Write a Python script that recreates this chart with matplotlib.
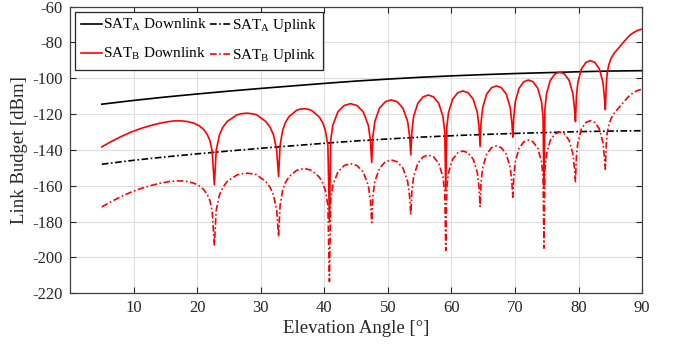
"""
Link budget versus elevation angle for the two satellites.
"""
import matplotlib
matplotlib.use("Agg")
import matplotlib.pyplot as plt

plt.rcParams['font.family'] = ['Liberation Serif', 'DejaVu Serif']
plt.rcParams['mathtext.fontset'] = 'custom'
plt.rcParams['mathtext.rm'] = 'Liberation Serif'
plt.rcParams['mathtext.it'] = 'Liberation Serif:italic'
plt.rcParams['axes.unicode_minus'] = False

# SAT_A: smooth curves
elev_a = [5, 10, 15, 20, 25, 30, 35, 40, 45, 50, 55, 60, 65, 70, 75, 80, 85, 90]
sat_a_down = [-114.5, -112.4, -110.5, -108.8, -107.2, -105.7, -104.3, -102.9, -101.6,
              -100.5, -99.5, -98.7, -98.0, -97.4, -96.9, -96.4, -96.0, -95.8]
sat_a_up = [-148.0, -145.8, -143.9, -142.2, -140.6, -139.1, -137.7, -136.3, -135.0,
            -133.9, -132.9, -132.1, -131.4, -130.8, -130.3, -129.8, -129.5, -129.3]

# SAT_B: multipath lobes, one row per lobe (ending on its null)
elev_b = [
    5, 6.5, 8, 9.5, 11, 12.5, 14, 15.5, 16.5, 17.5, 18.5, 19.5, 20.3, 21.0, 21.6, 22.0, 22.35, 22.7,
    23.0, 23.51, 24.01, 24.72, 26.24, 26.94, 27.9, 28.56, 29.3, 30.78, 31.49, 32.0, 32.5, 32.8,
    33.04, 33.44, 33.84, 34.4, 35.6, 36.16, 36.8, 37.44, 38.0, 39.2, 39.76, 40.16, 40.56, 40.8,
    41.0, 41.33, 42.13, 43.13, 44.13, 45.12, 46.12, 46.92, 47.25, 47.45,
    47.63, 47.94, 48.68, 49.6, 50.53, 51.45, 52.37, 53.11, 53.42, 53.6,
    53.77, 54.04, 54.7, 55.53, 56.35, 57.18, 58.0, 58.66, 58.94, 59.1,
    59.26, 59.53, 60.18, 60.99, 61.8, 62.61, 63.42, 64.07, 64.34, 64.5,
    64.65, 64.91, 65.53, 66.3, 67.08, 67.85, 68.62, 69.24, 69.5, 69.65,
    69.8, 70.04, 70.63, 71.37, 72.1, 72.84, 73.57, 74.16, 74.4, 74.55,
    74.7, 74.95, 75.54, 76.28, 77.03, 77.77, 78.51, 79.1, 79.35, 79.5,
    79.64, 79.88, 80.44, 81.15, 81.85, 82.56, 83.26, 83.82, 84.06, 84.2,
    84.34, 84.5, 84.75, 85.1, 85.6, 86.2, 86.8, 87.4, 88.0, 88.6, 89.3, 90.0,
]
sat_b_down = [
    -138.3, -135.3, -132.6, -130.2, -128.2, -126.6, -125.2, -124.2, -123.8,
    -123.8, -124.2, -125.1, -126.5, -128.5, -131.5, -134.8, -140.5, -159.5,
    -140.0, -131.6, -127.5, -124.1, -120.5, -119.8, -119.5, -119.8, -120.3, -124.1, -127.5, -131.6, -140.0, -154.8,
    -137.5, -129.1, -125.0, -121.6, -118.0, -117.3, -117.0, -117.3, -118.0, -121.6, -125.0, -129.1, -137.5, -180.0,
    -134.7, -126.3, -118.8, -115.2, -114.2, -115.2, -118.8, -126.3, -134.7, -147.0,
    -132.6, -124.2, -116.7, -113.1, -112.1, -113.1, -116.7, -124.2, -132.6, -142.8,
    -129.9, -121.5, -114.0, -110.4, -109.4, -110.4, -114.0, -121.5, -129.9, -162.6,
    -127.6, -119.2, -111.7, -108.1, -107.1, -108.1, -111.7, -119.2, -127.6, -138.1,
    -124.8, -116.4, -108.9, -105.3, -104.3, -105.3, -108.9, -116.4, -124.8, -132.9,
    -121.5, -113.1, -105.6, -102.0, -101.0, -102.0, -105.6, -113.1, -121.5, -161.3,
    -117.1, -108.7, -101.2, -97.6, -96.6, -97.6, -101.2, -108.7, -117.1, -124.2,
    -110.7, -102.3, -94.8, -91.2, -90.2, -91.2, -94.8, -102.3, -110.7, -117.5,
    -104.0, -97.0, -92.5, -89.0, -86.0, -83.5, -81.0, -78.5, -76.2, -74.6, -73.3, -72.6,
]
sat_b_up = [
    -171.8, -168.8, -166.1, -163.7, -161.7, -160.1, -158.7, -157.7, -157.3,
    -157.3, -157.7, -158.6, -160.0, -162.0, -165.0, -168.3, -174.0, -193.0,
    -173.5, -165.1, -161.0, -157.6, -154.0, -153.3, -153.0, -153.3, -153.8, -157.6, -161.0, -165.1, -173.5, -188.3,
    -171.0, -162.6, -158.5, -155.1, -151.5, -150.8, -150.5, -150.8, -151.5, -155.1, -158.5, -162.6, -171.0, -213.4,
    -168.2, -159.8, -152.3, -148.7, -147.7, -148.7, -152.3, -159.8, -168.2, -180.5,
    -166.1, -157.7, -150.2, -146.6, -145.6, -146.6, -150.2, -157.7, -166.1, -176.2,
    -163.4, -155.0, -147.5, -143.9, -142.9, -143.9, -147.5, -155.0, -163.4, -196.1,
    -161.1, -152.7, -145.2, -141.6, -140.6, -141.6, -145.2, -152.7, -161.1, -171.6,
    -158.3, -149.9, -142.4, -138.8, -137.8, -138.8, -142.4, -149.9, -158.3, -166.4,
    -155.0, -146.6, -139.1, -135.5, -134.5, -135.5, -139.1, -146.6, -155.0, -194.8,
    -150.6, -142.2, -134.7, -131.1, -130.1, -131.1, -134.7, -142.2, -150.6, -157.7,
    -144.2, -135.8, -128.3, -124.7, -123.7, -124.7, -128.3, -135.8, -144.2, -150.8,
    -137.5, -130.5, -126.0, -122.5, -119.5, -117.0, -114.5, -112.0, -109.7, -108.1, -106.8, -106.1,
]

x_ticks = [10, 20, 30, 40, 50, 60, 70, 80, 90]
y_ticks = [-220, -200, -180, -160, -140, -120, -100, -80, -60]

dashdot = (0, (4, 1.5, 1, 1.5))

fig = plt.figure(figsize=(6.76, 3.46), dpi=100)
ax = fig.add_axes([0.1036, 0.1523, 0.8464, 0.8289])

l_a_down, = ax.plot(elev_a, sat_a_down, color='black', lw=1.2, label='SAT$_\\mathrm{A}$ Downlink')
l_a_up, = ax.plot(elev_a, sat_a_up, color='black', lw=1.2, linestyle=dashdot,
                  label='SAT$_\\mathrm{A}$ Uplink')
l_b_down, = ax.plot(elev_b, sat_b_down, color='red', lw=1.2, label='SAT$_\\mathrm{B}$ Downlink')
l_b_up, = ax.plot(elev_b, sat_b_up, color='red', lw=1.2, linestyle=dashdot,
                  label='SAT$_\\mathrm{B}$ Uplink')

ax.set_xlim(0, 90)
ax.set_ylim(-220, -60)
ax.set_xticks(x_ticks)
ax.set_yticks(y_ticks)
ax.tick_params(direction='in', length=4, width=0.8, top=True, right=True,
               labelsize=12, colors='#262626', labelcolor='#262626', pad=5)
ax.grid(True, color='#dedede', linewidth=0.8)
ax.set_axisbelow(True)
for s in ax.spines.values():
    s.set_color('#404040')
    s.set_linewidth(0.9)

ax.set_xlabel('Elevation Angle [°]', fontsize=13.5, color='#262626', labelpad=3)
ax.set_ylabel('Link Budget [dBm]', fontsize=13.5, color='#262626', labelpad=3)

leg = ax.legend(handles=[l_a_down, l_b_down, l_a_up, l_b_up], ncol=2, loc='upper left',
                fontsize=11, frameon=True, fancybox=False, framealpha=1,
                edgecolor='#262626', handlelength=1.4, handletextpad=0.05,
                columnspacing=0.2, borderpad=0.35, labelspacing=0.85,
                borderaxespad=0.35)
leg.get_frame().set_linewidth(0.9)

plt.savefig('out.png', dpi=100)
